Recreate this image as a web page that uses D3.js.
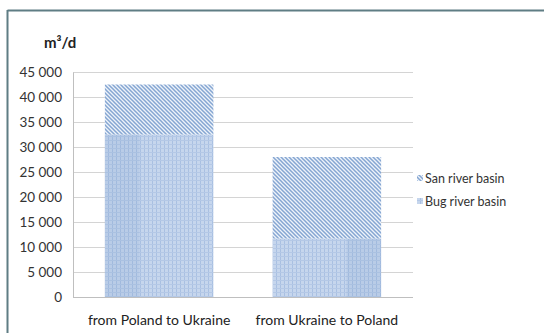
<!DOCTYPE html>
<html><head><meta charset="utf-8">
<script src="https://cdn.jsdelivr.net/npm/d3@7"></script>
<style>body{margin:0;background:#fff}svg{display:block}text{font-family:Lato,"Open Sans",sans-serif}</style>
</head><body>
<svg id="c" width="544" height="333"></svg>
<script>
const categories = ["from Poland to Ukraine", "from Ukraine to Poland"];
const seriesNames = ["Bug river basin", "San river basin"];
const bugValues = [32500, 11700];
const sanValues = [10000, 16300];
const yTicks = [0, 5000, 10000, 15000, 20000, 25000, 30000, 35000, 40000, 45000];
const unitLabel = "m³/d";

const svg = d3.select("#c");
const defs = svg.append("defs");

// San pattern: diagonal hatching
const pS = defs.append("pattern").attr("id","san").attr("patternUnits","userSpaceOnUse")
  .attr("width",4).attr("height",4);
pS.append("rect").attr("width",4).attr("height",4).attr("fill","#eef3fa");
pS.append("path").attr("d","M-1,-1 L5,5 M-1,3 L1,5 M3,-1 L5,1").attr("stroke","#85a6d2").attr("stroke-width",1.5);

// Bug pattern: plaid grid
const pB = defs.append("pattern").attr("id","bug").attr("patternUnits","userSpaceOnUse")
  .attr("width",4).attr("height",4);
pB.append("rect").attr("width",4).attr("height",4).attr("fill","#c6d6ed");
pB.append("rect").attr("x",0).attr("y",0).attr("width",1).attr("height",4).attr("fill","#a9c0e2");
pB.append("rect").attr("x",0).attr("y",0).attr("width",4).attr("height",1).attr("fill","#b4c8e6");

// frame
svg.append("line").attr("x1",7.5).attr("x2",544).attr("y1",10.5).attr("y2",10.5).attr("stroke","#5f7d84").attr("stroke-width",2);
svg.append("line").attr("x1",7.5).attr("x2",7.5).attr("y1",10).attr("y2",333).attr("stroke","#5f7d84").attr("stroke-width",2);

const x = d3.scaleBand().domain(categories).range([73, 413]).paddingInner(0.353).paddingOuter(0.19);
const y = d3.scaleLinear().domain([0, 45000]).range([297, 72]);

// gridlines
svg.append("g").selectAll("line").data(yTicks).join("line")
  .attr("x1",73).attr("x2",413).attr("y1",d=>Math.round(y(d))+0.5).attr("y2",d=>Math.round(y(d))+0.5)
  .attr("stroke",d=>d===0?"#bfbfbf":"#d4d4d4").attr("stroke-width",1);

// y axis
const fmt = d => d3.format(",")(d).replace(/,/g, " ");
const yAxis = d3.axisLeft(y).tickValues(yTicks).tickFormat(fmt).tickSize(0).tickPadding(11);
const gy = svg.append("g").attr("transform","translate(73,0)").call(yAxis);
gy.select(".domain").attr("stroke","#bfbfbf");
gy.selectAll("text").attr("font-size",13.5).attr("fill","#333").attr("font-family","Lato,sans-serif");

// x axis labels
const xAxis = d3.axisBottom(x).tickSize(0).tickPadding(18);
const gx = svg.append("g").attr("transform","translate(0,297)").call(xAxis);
gx.select(".domain").remove();
gx.selectAll("text").attr("font-size",14).attr("fill","#222").attr("font-family","Lato,sans-serif");

// bars
const stack = categories.map((c,i)=>({c, bug:bugValues[i], san:sanValues[i]}));
svg.append("g").selectAll("rect").data(stack).join("rect")
  .attr("x",d=>x(d.c)).attr("width",x.bandwidth())
  .attr("y",d=>y(d.bug)).attr("height",d=>y(0)-y(d.bug)).attr("fill","url(#bug)");
// darker shading bands (texture variation)
svg.append("g").selectAll("rect").data(stack).join("rect")
  .attr("x",(d,i)=>i===0?x(d.c):x(d.c)+x.bandwidth()*0.68).attr("width",x.bandwidth()*0.32)
  .attr("y",d=>y(d.bug)).attr("height",d=>y(0)-y(d.bug)).attr("fill","#7f9fcf").attr("opacity",0.18);
svg.append("g").selectAll("rect").data(stack).join("rect")
  .attr("x",d=>x(d.c)).attr("width",x.bandwidth())
  .attr("y",d=>y(d.bug+d.san)).attr("height",d=>y(d.bug)-y(d.bug+d.san)).attr("fill","url(#san)");

// unit label
svg.append("text").attr("x",44).attr("y",48).attr("font-size",15).attr("font-weight","bold").attr("fill","#222").text(unitLabel);

// legend
const lg = svg.append("g");
const legendItems = [{name:seriesNames[1], fill:"url(#san)"},{name:seriesNames[0], fill:"url(#bug)"}];
legendItems.forEach((d,i)=>{
  lg.append("rect").attr("x",417).attr("y",175+i*23).attr("width",6).attr("height",6).attr("fill",d.fill);
  lg.append("text").attr("x",425).attr("y",182.5+i*23).attr("font-size",12.5).attr("fill","#333").text(d.name);
});
</script>
</body></html>
